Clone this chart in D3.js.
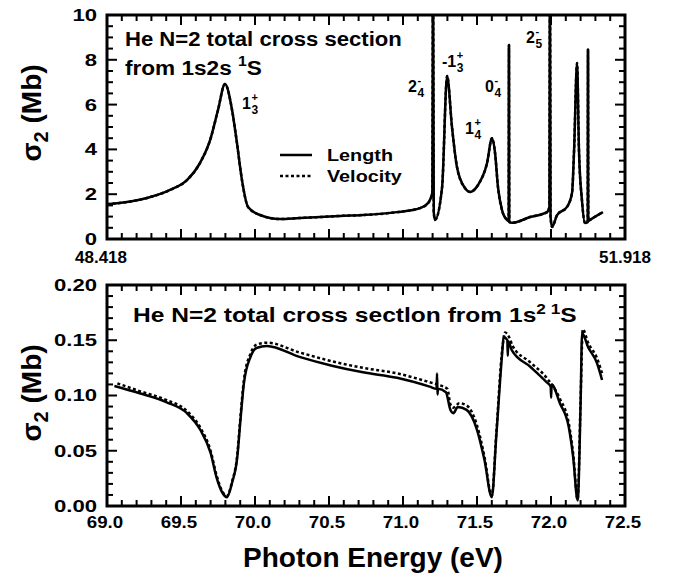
<!DOCTYPE html>
<html>
<head>
<meta charset="utf-8">
<script src="https://cdn.jsdelivr.net/npm/d3@7"></script>
<style>
  body { margin: 0; background: #fff; }
  text { font-family: "Liberation Sans", Arial, Helvetica, sans-serif; font-weight: bold; fill: #000; }
</style>
</head>
<body>
<div class="chart"></div>
<script>
// top panel: He N=2 from 1s2s 1S (energy eV, sigma Mb)
var topE = [48.418, 48.688, 48.844, 48.958, 49.046, 49.114, 49.168, 49.215, 49.263, 49.296, 49.330, 49.371,
  49.452, 49.587, 49.722, 49.857, 49.993, 50.148, 50.377, 50.533, 50.587, 50.616, 50.621, 50.626, 50.634,
  50.682, 50.716, 50.749, 50.783, 50.837, 50.871, 50.925, 50.986, 51.019, 51.040, 51.060, 51.087, 51.121,
  51.132, 51.134, 51.136, 51.155, 51.276, 51.391, 51.407, 51.411, 51.415, 51.425, 51.459, 51.526, 51.560,
  51.574, 51.594, 51.607, 51.627, 51.648, 51.666, 51.668, 51.670, 51.681, 51.769];
var topLength = [1.55, 1.83, 2.19, 2.63, 3.39, 4.4, 5.76, 6.92, 5.76, 4.29, 2.63, 1.43,
  1.07, 0.89, 0.94, 0.98, 1.03, 1.07, 1.2, 1.38, 1.6, 2.05, 12, 1.2, 0.85,
  2.3, 7.28, 5.0, 3.2, 2.27, 2.1, 2.41, 3.39, 4.5, 3.84, 2.3, 1.29, 0.85,
  0.8, 8.66, 0.76, 0.72, 0.98, 1.2, 1.43, 12, 1.0, 0.54, 1.07, 1.43, 2.05,
  3.97, 7.86, 3.97, 1.74, 0.71, 0.76, 8.48, 0.8, 0.85, 1.2];
// velocity form is indistinguishable from length in the top panel
var topVelocity = topLength;

// bottom panel: He N=2 from 1s2 1S
var botE = [69.05, 69.22, 69.40, 69.54, 69.63, 69.70, 69.74, 69.78, 69.81, 69.845, 69.88, 69.90, 69.925,
  69.97, 70.01, 70.08, 70.30, 70.52, 70.73, 70.96, 71.18, 71.227, 71.230, 71.233, 71.236, 71.29, 71.32, 71.34, 71.37,
  71.43, 71.50, 71.55, 71.60, 71.63, 71.67, 71.68, 71.705, 71.708, 71.711, 71.735, 71.86, 71.97,
  71.998, 72.001, 72.004, 72.06, 72.12, 72.15, 72.18, 72.20, 72.21, 72.25, 72.31, 72.345];
var botLength = [0.1086, 0.102, 0.094, 0.084, 0.069, 0.048, 0.026, 0.012, 0.008, 0.021, 0.044, 0.075, 0.111,
  0.135, 0.143, 0.1448, 0.135, 0.127, 0.121, 0.116, 0.108, 0.106, 0.120, 0.101, 0.106, 0.103, 0.087, 0.084, 0.0896,
  0.087, 0.069, 0.042, 0.008, 0.0625, 0.138, 0.153, 0.150, 0.136, 0.149, 0.141, 0.126, 0.112,
  0.108, 0.098, 0.110, 0.093, 0.0715, 0.044, 0.005, 0.093, 0.1565, 0.144, 0.1295, 0.114];
var botVE = [69.07, 69.22, 69.40, 69.54, 69.63, 69.70, 69.74, 69.78, 69.81, 69.845, 69.88, 69.90, 69.925,
  69.97, 70.01, 70.08, 70.30, 70.55, 70.73, 70.96, 71.18, 71.23, 71.30, 71.32, 71.34, 71.38, 71.43, 71.50,
  71.55, 71.60, 71.63, 71.67, 71.69, 71.72, 71.74, 71.86, 71.97, 72.06, 72.12, 72.15, 72.18, 72.20, 72.215,
  72.25, 72.31, 72.35];
var botVelocity = [0.111, 0.104, 0.096, 0.086, 0.071, 0.050, 0.028, 0.013, 0.009, 0.022, 0.046, 0.078, 0.114,
  0.138, 0.146, 0.1478, 0.139, 0.130, 0.125, 0.120, 0.112, 0.110, 0.106, 0.092, 0.089, 0.093, 0.091, 0.073,
  0.045, 0.009, 0.065, 0.141, 0.157, 0.152, 0.145, 0.130, 0.116, 0.097, 0.075, 0.047, 0.006, 0.096, 0.160,
  0.148, 0.134, 0.118];

// resonance labels: main, superscript, subscript, anchor energy, anchor sigma
var resMain = ["1", "2", "-1", "1", "0", "2"];
var resSup = ["+", "-", "+", "+", "-", "-"];
var resSub = ["3", "4", "3", "4", "4", "5"];
var resE = [49.330, 50.452, 50.681, 50.837, 50.972, 51.249];
var resV = [5.8, 6.56, 7.68, 4.69, 6.56, 8.75];

var topXTicks = d3.range(0, 36).map(i => 48.418 + i * 0.1);
var topYTicks = d3.range(0, 21).map(i => i * 0.5);
var botXTicks = d3.range(0, 36).map(i => 69 + i * 0.1);
var botYTicks = d3.range(0, 21).map(i => i * 0.01);

var W = 673, H = 577;
var svg = d3.select(".chart").append("svg")
  .attr("width", W).attr("height", H)
  .style("background", "#fff");

var xTop = d3.scaleLinear().domain([48.418, 51.918]).range([107, 625]);
var yTop = d3.scaleLinear().domain([0, 10]).range([239, 15]);
var xBot = d3.scaleLinear().domain([69, 72.5]).range([107, 625]);
var yBot = d3.scaleLinear().domain([0, 0.2]).range([506, 285]);

// the original lettering is wider than Arial: stretch text horizontally about a pivot
function stretch(t, sx, pivot) {
  t.attr("transform", `translate(${pivot},0) scale(${sx},1) translate(${-pivot},0)`);
  return t;
}
function fitWidth(t, w) {
  var bb = t.node().getBBox();
  return stretch(t, w / bb.width, bb.x);
}

function drawFrame(x, y, xt, yt, isMajorX, isMajorY) {
  var g = svg.append("g");
  var x0 = x.range()[0], x1 = x.range()[1], y0 = y.range()[0], y1 = y.range()[1];
  xt.forEach(function(v, i) {
    var len = isMajorX(i) ? 10 : 6;
    g.append("line").attr("x1", x(v)).attr("x2", x(v)).attr("y1", y0).attr("y2", y0 - len);
    g.append("line").attr("x1", x(v)).attr("x2", x(v)).attr("y1", y1).attr("y2", y1 + len);
  });
  yt.forEach(function(v, i) {
    var len = isMajorY(i) ? 10 : 6;
    g.append("line").attr("y1", y(v)).attr("y2", y(v)).attr("x1", x0).attr("x2", x0 + len);
    g.append("line").attr("y1", y(v)).attr("y2", y(v)).attr("x1", x1).attr("x2", x1 - len);
  });
  g.selectAll("line").attr("stroke", "#000").attr("stroke-width", 2);
  g.append("rect").attr("x", x0).attr("y", y1).attr("width", x1 - x0).attr("height", y0 - y1)
    .attr("fill", "none").attr("stroke", "#000").attr("stroke-width", 3);
  return g;
}

function clip(id, x, y) {
  svg.append("clipPath").attr("id", id).append("rect")
    .attr("x", x.range()[0]).attr("y", y.range()[1])
    .attr("width", x.range()[1] - x.range()[0]).attr("height", y.range()[0] - y.range()[1]);
}
clip("cTop", xTop, yTop);
clip("cBot", xBot, yBot);

function curve(E, V, x, y, dashed, clipId, w) {
  var pts = E.map((e, i) => [e, V[i]]);
  var line = d3.line().x(d => x(d[0])).y(d => y(d[1])).curve(d3.curveMonotoneX);
  svg.append("path").attr("d", line(pts))
    .attr("clip-path", "url(#" + clipId + ")")
    .attr("fill", "none").attr("stroke", "#000")
    .attr("stroke-width", w)
    .attr("stroke-linejoin", "round")
    .attr("stroke-dasharray", dashed ? "3,2.5" : null);
}

// top panel
curve(topE, topVelocity, xTop, yTop, true, "cTop", 2.5);
curve(topE, topLength, xTop, yTop, false, "cTop", 2.5);
drawFrame(xTop, yTop, topXTicks, topYTicks, i => i % 5 === 0, i => i % 4 === 0);

[0, 2, 4, 6, 8, 10].forEach(function(v) {
  var t = svg.append("text").attr("x", 97).attr("y", yTop(v) + 6)
    .attr("text-anchor", "end").attr("font-size", 17).text(v);
  stretch(t, 1.3, 97);
});
svg.append("text").attr("x", xTop(48.418) - 6).attr("y", 263).attr("text-anchor", "middle")
  .attr("font-size", 17).text("48.418");
svg.append("text").attr("x", xTop(51.918)).attr("y", 263).attr("text-anchor", "middle")
  .attr("font-size", 17).text("51.918");

fitWidth(svg.append("text").attr("x", 125).attr("y", 46).attr("font-size", 20)
  .text("He N=2 total cross section"), 277);
var t2 = svg.append("text").attr("x", 125).attr("y", 75).attr("font-size", 20);
t2.append("tspan").text("from 1s2s ");
t2.append("tspan").attr("dy", -9).attr("font-size", 14).text("1");
t2.append("tspan").attr("dy", 9).text("S");
fitWidth(t2, 137);

// legend
svg.append("line").attr("x1", 280).attr("x2", 312).attr("y1", 155).attr("y2", 155)
  .attr("stroke", "#000").attr("stroke-width", 2.5);
svg.append("line").attr("x1", 280).attr("x2", 312).attr("y1", 176).attr("y2", 176)
  .attr("stroke", "#000").attr("stroke-width", 2.5).attr("stroke-dasharray", "3,2.5");
fitWidth(svg.append("text").attr("x", 327).attr("y", 161).attr("font-size", 16).text("Length"), 66);
fitWidth(svg.append("text").attr("x", 327).attr("y", 182).attr("font-size", 16).text("Velocity"), 75);

resMain.forEach(function(m, i) {
  var x0 = xTop(resE[i]), b = yTop(resV[i]);
  var t = svg.append("text").attr("x", x0).attr("y", b).attr("font-size", 16).text(m);
  var w = t.node().getComputedTextLength();
  svg.append("text").attr("x", x0 + w + 0.5).attr("y", b - 8).attr("font-size", 11).text(resSup[i]);
  svg.append("text").attr("x", x0 + w + 0.5).attr("y", b + 5).attr("font-size", 12).text(resSub[i]);
});

// bottom panel
curve(botVE, botVelocity, xBot, yBot, true, "cBot", 2.5);
curve(botE, botLength, xBot, yBot, false, "cBot", 2.5);
drawFrame(xBot, yBot, botXTicks, botYTicks, i => i % 5 === 0, i => i % 5 === 0);

botYTicks.filter((v, i) => i % 5 === 0).forEach(function(v) {
  var t = svg.append("text").attr("x", 97).attr("y", yBot(v) + 6)
    .attr("text-anchor", "end").attr("font-size", 17).text(v.toFixed(2));
  stretch(t, 1.3, 97);
});
botXTicks.filter((v, i) => i % 5 === 0).forEach(function(v) {
  var t = svg.append("text").attr("x", xBot(v) - 2).attr("y", 528)
    .attr("text-anchor", "middle").attr("font-size", 17).text(v.toFixed(1));
  stretch(t, 1.1, xBot(v) - 2);
});

var t3 = svg.append("text").attr("x", 133).attr("y", 322).attr("font-size", 20);
t3.append("tspan").text("He N=2 total cross sectlon from 1s");
t3.append("tspan").attr("dy", -8).attr("font-size", 14).text("2");
t3.append("tspan").attr("dy", 0).attr("font-size", 14).text(" 1");
t3.append("tspan").attr("dy", 8).text("S");
fitWidth(t3, 444);

// axis titles
function yTitle(cx, cy) {
  var t = svg.append("text").attr("transform", "translate(" + cx + "," + cy + ") rotate(-90)")
    .attr("text-anchor", "middle").attr("font-size", 28);
  t.append("tspan").text("σ");
  t.append("tspan").attr("dy", 7).attr("font-size", 20).text("2");
  t.append("tspan").attr("dy", -7).text(" (Mb)");
}
yTitle(41, 113);
yTitle(41, 393);

svg.append("text").attr("x", 373).attr("y", 567).attr("text-anchor", "middle")
  .attr("font-size", 28).text("Photon Energy (eV)");
</script>
</body>
</html>
